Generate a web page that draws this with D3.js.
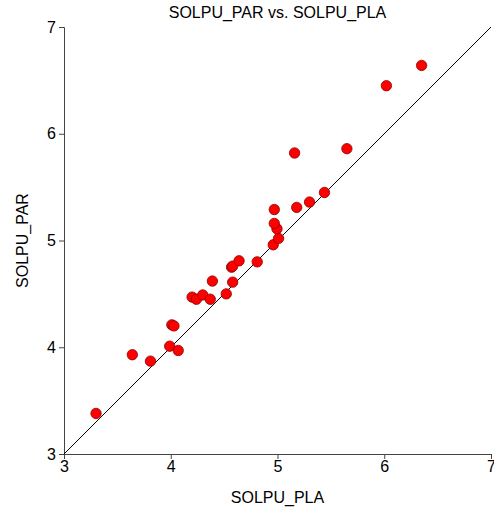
<!DOCTYPE html>
<html><head><meta charset="utf-8">
<script src="https://cdn.jsdelivr.net/npm/d3@7"></script>
<style>body{margin:0;background:#fff}svg{display:block;font-family:"Liberation Sans",Arial,sans-serif}</style>
</head><body><svg id="c" width="494" height="515"></svg>
<script>
const solpuPla = [3.30,3.64,3.81,3.99,4.01,4.03,4.07,4.20,4.24,4.30,4.37,4.39,4.52,4.58,4.57,4.58,4.64,4.81,4.96,5.01,4.995,4.97,4.97,5.18,5.30,5.44,5.16,5.65,6.02,6.35];
const solpuPar = [3.38,3.93,3.87,4.01,4.21,4.20,3.97,4.47,4.45,4.49,4.45,4.62,4.50,4.61,4.75,4.76,4.81,4.80,4.96,5.02,5.11,5.16,5.29,5.31,5.36,5.45,5.82,5.86,6.45,6.64];
const xTicks = [3,4,5,6,7];
const yTicks = [3,4,5,6,7];
const title = "SOLPU_PAR vs. SOLPU_PLA";
const xLabel = "SOLPU_PLA";
const yLabel = "SOLPU_PAR";

const svg = d3.select("#c");
const x = d3.scaleLinear().domain([3,7]).range([64,491]);
const y = d3.scaleLinear().domain([3,7]).range([454,27]);

const gx = svg.append("g").attr("transform","translate(0,454)")
  .call(d3.axisBottom(x).tickValues(xTicks).tickFormat(d3.format("d")).tickSize(5).tickPadding(2));
const gy = svg.append("g").attr("transform","translate(64,0)")
  .call(d3.axisLeft(y).tickValues(yTicks).tickFormat(d3.format("d")).tickSize(5).tickPadding(3));
[gx,gy].forEach(g=>{
  g.selectAll("path,line").attr("stroke","#444");
  g.selectAll("text").attr("font-size",16).attr("fill","#000").attr("font-family","Liberation Sans, Arial, sans-serif");
});

svg.append("line")
  .attr("x1",x(3)).attr("y1",y(3)).attr("x2",x(7)).attr("y2",y(7))
  .attr("stroke","#000").attr("stroke-width",1);

svg.append("g").selectAll("circle").data(solpuPla.map((v,i)=>[v,solpuPar[i]])).join("circle")
  .attr("cx",d=>x(d[0])).attr("cy",d=>y(d[1])).attr("r",5.2)
  .attr("fill","#ff0000").attr("stroke","#8b0000").attr("stroke-width",0.8);

svg.append("text").attr("x",277.5).attr("y",18).attr("text-anchor","middle").attr("font-size",16).text(title);
svg.append("text").attr("x",277.5).attr("y",503).attr("text-anchor","middle").attr("font-size",16).text(xLabel);
svg.append("text").attr("transform","translate(28,240.5) rotate(-90)").attr("text-anchor","middle").attr("font-size",16).text(yLabel);
</script></body></html>
